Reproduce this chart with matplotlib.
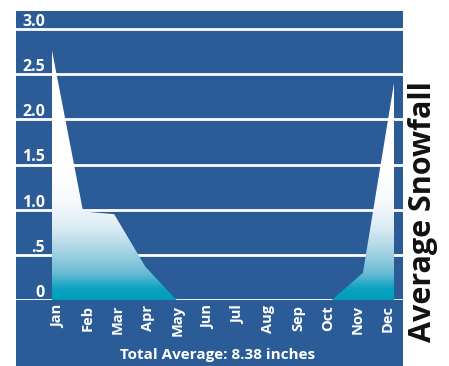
import numpy as np
import matplotlib
matplotlib.use("Agg")
import matplotlib.pyplot as plt
from matplotlib.colors import LinearSegmentedColormap
from matplotlib.patches import Rectangle
from matplotlib.transforms import blended_transform_factory

months = ["Jan", "Feb", "Mar", "Apr", "May", "Jun", "Jul", "Aug", "Sep", "Oct", "Nov", "Dec"]
snowfall = [2.76, 0.98, 0.95, 0.37, 0.0, 0.0, 0.0, 0.0, 0.0, 0.0, 0.30, 2.40]
y_ticks = [0, 0.5, 1.0, 1.5, 2.0, 2.5, 3.0]
y_labels = ["0", ".5", "1.0", "1.5", "2.0", "2.5", "3.0"]
total_text = "Total Average: 8.38 inches"
side_title = "Average Snowfall"

W, H = 449, 366
BLUE = "#2b5c98"
FONT = ["Open Sans", "DejaVu Sans"]

fig = plt.figure(figsize=(W / 100, H / 100), dpi=100)
fig.patch.set_facecolor("white")

# blue backdrop panel (pixel coords converted to figure fractions)
px0, px1, py_top = 16, 403, 11
fig.patches.append(Rectangle((px0 / W, 0), (px1 - px0) / W, (H - py_top) / H,
                             transform=fig.transFigure, facecolor=BLUE,
                             edgecolor="none", zorder=-5))

zero_px, three_px = 300, 29
ppu_y = (zero_px - three_px) / 3.0
jan_px, dec_px = 52, 394
ppu_x = (dec_px - jan_px) / 11.0

ax = fig.add_axes([px0 / W, (H - zero_px) / H, (px1 - px0) / W, (zero_px - py_top) / H])
ax.set_zorder(1)
ax.set_facecolor("none")
xlim = (-(jan_px - px0) / ppu_x, 11 + (px1 - dec_px) / ppu_x)
ylim = (0, 3.0 + (three_px - py_top) / ppu_y)
for s in ax.spines.values():
    s.set_visible(False)
ax.set_xticks([])
ax.set_yticks([])

x = np.arange(len(months))

# grid lines (behind the area) and value labels
lab_tf = blended_transform_factory(fig.transFigure, ax.transData)
for v, lab in zip(y_ticks, y_labels):
    ax.axhline(v, color="white", lw=2.0, zorder=1)
    ax.text(45 / W, v + 0.035, lab, transform=lab_tf,
            ha="right", va="baseline", color="white", fontsize=11.5, fontweight="bold",
            family=FONT, zorder=4)

# gradient-filled area: teal at the base fading to white by ~1.5
top = ylim[1]
stops = [(0.0, "#009dbb"), (0.12, "#0aa3c0"), (0.3, "#6dbcd5"), (0.55, "#a9d5e5"),
         (0.8, "#dcecf4"), (1.1, "#f6fafd"), (1.4, "#ffffff")]
cmap = LinearSegmentedColormap.from_list(
    "snow", [(v / top, c) for v, c in stops] + [(1.0, "#ffffff")])
grad = np.linspace(0, 1, 512).reshape(-1, 1)
img = ax.imshow(grad, cmap=cmap, origin="lower", aspect="auto",
                extent=[xlim[0], xlim[1], 0, top], zorder=2, interpolation="bilinear")
poly = ax.fill_between(x, snowfall, 0, color="none", lw=0, zorder=2)
img.set_clip_path(poly.get_paths()[0], transform=ax.transData)
ax.set_xlim(*xlim)
ax.set_ylim(*ylim)

# month labels
for i, m in enumerate(months):
    lx = (58 + i * 30.0) / W
    fig.text(lx, (H - 305) / H, m, rotation=90, ha="center", va="top",
             color="white", fontsize=10.5, fontweight="bold", family=FONT)

fig.text(218 / W, (H - 355) / H, total_text, ha="center", va="center",
         color="white", fontsize=11, fontweight="bold", family=FONT)

fig.text(423 / W, (H - 212) / H, side_title, rotation=90, ha="center", va="center",
         color="#111111", fontsize=22, fontweight="bold", family=FONT)

fig.savefig("out.png", dpi=100, facecolor="white")
